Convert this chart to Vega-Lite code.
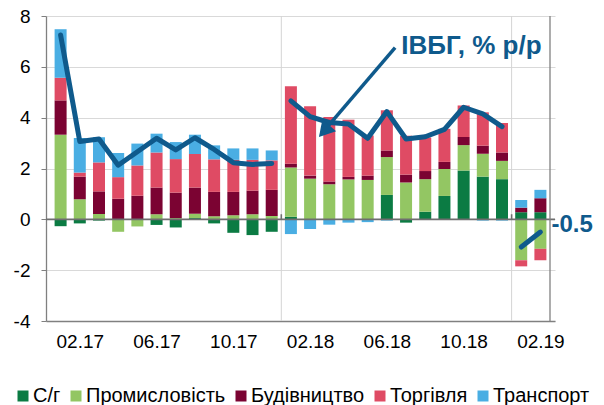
{
  "$schema": "https://vega.github.io/schema/vega-lite/v6.json",
  "width": 509,
  "height": 305,
  "autosize": "none",
  "padding": {"left": 46, "top": 16, "right": 49, "bottom": 84},
  "background": "white",
  "config": {"view": {"stroke": null}, "font": "Liberation Sans"},
  "datasets": {
    "d": [
      {"m": "01.17", "t": 1, "yr": 2017, "С/г": -0.27, "Промисловість": 3.33, "Будівництво": 1.35, "Торгівля": 0.89, "Транспорт": 1.91, "ivbg": 7.25},
      {"m": "02.17", "t": 2, "yr": 2017, "С/г": -0.16, "Промисловість": 0.79, "Будівництво": 0.89, "Торгівля": 0.16, "Транспорт": 1.36, "ivbg": 3.06},
      {"m": "03.17", "t": 3, "yr": 2017, "С/г": -0.05, "Промисловість": 0.21, "Будівництво": 0.89, "Торгівля": 1.14, "Транспорт": 0.99, "ivbg": 3.16},
      {"m": "04.17", "t": 4, "yr": 2017, "С/г": 0, "Промисловість": -0.49, "Будівництво": 0.81, "Торгівля": 0.85, "Транспорт": 0.95, "ivbg": 2.13},
      {"m": "05.17", "t": 5, "yr": 2017, "С/г": 0, "Промисловість": -0.28, "Будівництво": 0.93, "Торгівля": 1.19, "Транспорт": 0.86, "ivbg": 2.66},
      {"m": "06.17", "t": 6, "yr": 2017, "С/г": -0.22, "Промисловість": 0.2, "Будівництво": 1.05, "Торгівля": 1.38, "Транспорт": 0.74, "ivbg": 3.19},
      {"m": "07.17", "t": 7, "yr": 2017, "С/г": -0.32, "Промисловість": 0.05, "Будівництво": 1.0, "Торгівля": 1.32, "Транспорт": 0.67, "ivbg": 2.73},
      {"m": "08.17", "t": 8, "yr": 2017, "С/г": 0.05, "Промисловість": 0.17, "Будівництво": 1.03, "Торгівля": 1.32, "Транспорт": 0.76, "ivbg": 3.21},
      {"m": "09.17", "t": 9, "yr": 2017, "С/г": -0.16, "Промисловість": 0.12, "Будівництво": 0.96, "Торгівля": 1.28, "Транспорт": 0.55, "ivbg": 2.75},
      {"m": "10.17", "t": 10, "yr": 2017, "С/г": -0.53, "Промисловість": 0.16, "Будівництво": 0.92, "Торгівля": 1.26, "Транспорт": 0.45, "ivbg": 2.23},
      {"m": "11.17", "t": 11, "yr": 2017, "С/г": -0.62, "Промисловість": 0.2, "Будівництво": 0.93, "Торгівля": 1.21, "Транспорт": 0.45, "ivbg": 2.16},
      {"m": "12.17", "t": 12, "yr": 2017, "С/г": -0.49, "Промисловість": 0.13, "Будівництво": 1.03, "Торгівля": 1.16, "Транспорт": 0.39, "ivbg": 2.2},
      {"m": "01.18", "t": 13, "yr": 2018, "С/г": 0.1, "Промисловість": 1.94, "Будівництво": 0.15, "Торгівля": 3.05, "Транспорт": -0.58, "ivbg": 4.66},
      {"m": "02.18", "t": 14, "yr": 2018, "С/г": 0, "Промисловість": 1.6, "Будівництво": 0.12, "Торгівля": 2.73, "Транспорт": -0.38, "ivbg": 4.04},
      {"m": "03.18", "t": 15, "yr": 2018, "С/г": 0, "Промисловість": 1.38, "Будівництво": 0.11, "Торгівля": 2.54, "Транспорт": -0.21, "ivbg": 3.81},
      {"m": "04.18", "t": 16, "yr": 2018, "С/г": 0, "Промисловість": 1.57, "Будівництво": 0.1, "Торгівля": 2.25, "Транспорт": -0.13, "ivbg": 3.75},
      {"m": "05.18", "t": 17, "yr": 2018, "С/г": 0, "Промисловість": 1.55, "Будівництво": 0.17, "Торгівля": 1.58, "Транспорт": -0.11, "ivbg": 3.19},
      {"m": "06.18", "t": 18, "yr": 2018, "С/г": 0.96, "Промисловість": 1.49, "Будівництво": 0.26, "Торгівля": 1.58, "Транспорт": -0.05, "ivbg": 4.24},
      {"m": "07.18", "t": 19, "yr": 2018, "С/г": -0.13, "Промисловість": 1.45, "Будівництво": 0.31, "Торгівля": 1.53, "Транспорт": 0, "ivbg": 3.16},
      {"m": "08.18", "t": 20, "yr": 2018, "С/г": 0.3, "Промисловість": 1.28, "Будівництво": 0.32, "Торгівля": 1.32, "Транспорт": 0, "ivbg": 3.25},
      {"m": "09.18", "t": 21, "yr": 2018, "С/г": 0.92, "Промисловість": 1.06, "Будівництво": 0.28, "Торгівля": 1.3, "Транспорт": 0, "ivbg": 3.54},
      {"m": "10.18", "t": 22, "yr": 2018, "С/г": 1.92, "Промисловість": 1.0, "Будівництво": 0.32, "Торгівля": 1.24, "Транспорт": 0, "ivbg": 4.41},
      {"m": "11.18", "t": 23, "yr": 2018, "С/г": 1.68, "Промисловість": 0.9, "Будівництво": 0.32, "Торгівля": 1.31, "Транспорт": -0.05, "ivbg": 4.15},
      {"m": "12.18", "t": 24, "yr": 2018, "С/г": 1.58, "Промисловість": 0.72, "Будівництво": 0.33, "Торгівля": 1.16, "Транспорт": -0.05, "ivbg": 3.65},
      {"m": "01.19", "t": 25, "yr": 2019, "С/г": 0.28, "Промисловість": -1.61, "Будівництво": 0.18, "Торгівля": -0.24, "Транспорт": 0.3, "ivbg": -1.09},
      {"m": "02.19", "t": 26, "yr": 2019, "С/г": 0.28, "Промисловість": -1.16, "Будівництво": 0.55, "Торгівля": -0.45, "Транспорт": 0.33, "ivbg": -0.5}
    ],
    "sec": [
      {"s": "С/г", "k": 1},
      {"s": "Промисловість", "k": 2},
      {"s": "Будівництво", "k": 3},
      {"s": "Торгівля", "k": 4},
      {"s": "Транспорт", "k": 5}
    ]
  },
  "layer": [
    {
      "data": {"values": [{"x": 12.5}, {"x": 24.5}]},
      "mark": {"type": "rule", "color": "#d4d4d4", "strokeWidth": 1},
      "encoding": {
        "x": {"field": "x", "type": "quantitative"}
      }
    },
    {
      "data": {"name": "d"},
      "transform": [
        {"fold": ["С/г", "Промисловість", "Будівництво", "Торгівля", "Транспорт"], "as": ["s", "v"]},
        {"lookup": "s", "from": {"data": {"name": "sec"}, "key": "s", "fields": ["k"]}}
      ],
      "mark": {"type": "bar", "size": 12},
      "encoding": {
        "x": {
          "field": "t", "type": "quantitative",
          "scale": {"domain": [0.5, 26.5], "nice": false, "zero": false},
          "axis": {
            "values": [2, 6, 10, 14, 18, 22, 26],
            "labelExpr": "['02.17','06.17','10.17','02.18','06.18','10.18','02.19'][(datum.value-2)/4]",
            "ticks": false, "grid": false, "title": null,
            "domainColor": "#808080", "domainWidth": 1.3,
            "labelFontSize": 19, "labelColor": "#000000", "labelPadding": 11, "labelFlush": false, "labelOverlap": false
          }
        },
        "y": {
          "field": "v", "type": "quantitative", "stack": "zero",
          "scale": {"domain": [-4, 8], "nice": false},
          "axis": {
            "values": [-4, -2, 0, 2, 4, 6, 8],
            "labelExpr": "'' + datum.value",
            "title": null,
            "domainColor": "#808080", "domainWidth": 1.3,
            "tickColor": "#808080", "tickSize": 5,
            "gridColor": "#d9d9d9", "gridWidth": 1.2,
            "labelFontSize": 19, "labelColor": "#000000", "labelPadding": 11
          }
        },
        "color": {
          "field": "s", "type": "nominal",
          "scale": {
            "domain": ["С/г", "Промисловість", "Будівництво", "Торгівля", "Транспорт"],
            "range": ["#0B7B43", "#93C663", "#7B0332", "#DF4B64", "#4AAEE3"]
          },
          "legend": {
            "orient": "none", "legendX": -33, "legendY": 370,
            "direction": "horizontal", "title": null,
            "symbolType": "square", "symbolSize": 121, "symbolStrokeWidth": 0,
            "labelFontSize": 20, "labelColor": "#000000", "labelOffset": 0, "columnPadding": 5
          }
        },
        "order": {"field": "k", "type": "quantitative", "sort": "ascending"}
      }
    },
    {
      "data": {"values": [{}]},
      "mark": {"type": "rule", "color": "#6e6e6e", "strokeWidth": 1.6},
      "encoding": {"y": {"datum": 0}}
    },
    {
      "data": {"values": [{"x": 12.5}, {"x": 24.5}]},
      "mark": {"type": "rule", "color": "#6e6e6e", "strokeWidth": 1.6},
      "encoding": {
        "x": {"field": "x", "type": "quantitative"},
        "y": {"datum": 0},
        "y2": {"datum": 0.2}
      }
    },
    {
      "data": {"values": [{}]},
      "mark": {"type": "rule", "color": "#808080", "strokeWidth": 1.3},
      "encoding": {"x": {"datum": 26.5}}
    },
    {
      "data": {"name": "d"},
      "mark": {"type": "line", "color": "#0F5A8C", "strokeWidth": 5, "strokeCap": "round", "strokeJoin": "round"},
      "encoding": {
        "x": {"field": "t", "type": "quantitative"},
        "y": {"field": "ivbg", "type": "quantitative"},
        "detail": {"field": "yr", "type": "nominal"}
      }
    },
    {
      "data": {"name": "d"},
      "transform": [{"filter": "datum.t == 26"}],
      "mark": {"type": "text", "color": "#0F5A8C", "fontSize": 24, "fontWeight": "bold", "align": "left", "baseline": "middle", "dx": 11, "dy": -7},
      "encoding": {
        "x": {"field": "t", "type": "quantitative"},
        "y": {"field": "ivbg", "type": "quantitative"},
        "text": {"value": "-0.5"}
      }
    },
    {
      "data": {"values": [{}]},
      "mark": {"type": "rule", "color": "#0F5A8C", "strokeWidth": 3.5},
      "encoding": {
        "x": {"datum": 18.43}, "y": {"datum": 6.76},
        "x2": {"datum": 14.8}, "y2": {"datum": 3.55}
      }
    },
    {
      "data": {"values": [{}]},
      "mark": {"type": "point", "shape": "triangle-up", "filled": true, "color": "#0F5A8C", "size": 330, "angle": 221, "opacity": 1},
      "encoding": {
        "x": {"datum": 14.73}, "y": {"datum": 3.47}
      }
    },
    {
      "data": {"values": [{}]},
      "mark": {"type": "text", "color": "#0F5A8C", "fontSize": 26, "fontWeight": "bold", "align": "left", "baseline": "alphabetic"},
      "encoding": {
        "x": {"datum": 18.75}, "y": {"datum": 6.5},
        "text": {"value": "ІВБГ, % р/р"}
      }
    }
  ]
}
